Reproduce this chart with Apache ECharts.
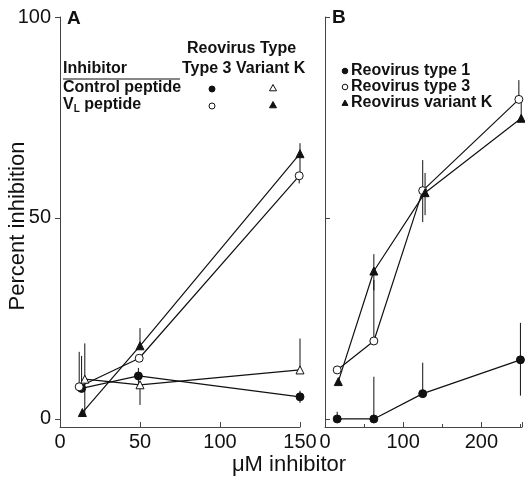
<!DOCTYPE html>
<html>
<head>
<meta charset="utf-8">
<script src="https://cdn.jsdelivr.net/npm/echarts@6/dist/echarts.min.js"></script>
<style>
  html, body { margin: 0; padding: 0; background: #fff; }
  #chart { width: 525px; height: 477px; }
</style>
</head>
<body>
<div id="chart"></div>
<script>
// panel A: inhibitor concentration (uM)
const ctrlType3X = [13.5, 49, 150];
const ctrlType3Y = [7.6, 10.7, 5.5];
const ctrlType3Lo = [7.6, 8.7, 4];
const ctrlType3Hi = [15.7, 12.7, 7];

const ctrlKX = [15.5, 50, 150];
const ctrlKY = [9.9, 8.5, 12.2];
const ctrlKLo = [1, 3.5, 12.2];
const ctrlKHi = [18.8, 8.5, 20];

const vlType3X = [12, 49.5, 149.5];
const vlType3Y = [8.0, 15.1, 60.5];
const vlType3Lo = [8.0, 15.1, 58.6];
const vlType3Hi = [16.7, 15.1, 60.5];

const vlKX = [14, 50, 150];
const vlKY = [1.6, 18.2, 66];
const vlKLo = [1.6, 18.2, 61];
const vlKHi = [1.6, 22.6, 68.6];

// panel B
const bX = [15.6, 62.5, 125, 250];
const type1Y = [0, 0, 6.3, 14.7];
const type1Lo = [0, 0, 6.3, 5.8];
const type1Hi = [1.8, 10.5, 14, 23.9];

const type3X = [15.6, 62.5, 125, 248];
const type3Y = [12.2, 19.4, 56.8, 79.5];
const type3Lo = [12.2, 19.4, 49, 79.5];
const type3Hi = [12.2, 34.6, 64.4, 84.3];

const variantKX = [17, 62.5, 128, 251];
const variantKY = [9.3, 36.8, 56.3, 74.8];
const variantKLo = [9.3, 32, 50.7, 74.8];
const variantKHi = [9.3, 41, 61.2, 79.5];

const yTicks = [0, 50, 100];

const ink = "#111";
const font = "Liberation Sans";

function pts(xs, ys) {
  return xs.map((x, i) => [x, ys[i]]);
}
function bars(xs, lo, hi) {
  return xs.map((x, i) => [x, lo[i], hi[i]]);
}

function errSeries(data, idx) {
  return {
    type: "custom",
    xAxisIndex: idx,
    yAxisIndex: idx,
    data: data,
    encode: { x: 0, y: [1, 2] },
    z: 1,
    silent: true,
    renderItem: function (params, api) {
      const a = api.coord([api.value(0), api.value(1)]);
      const b = api.coord([api.value(0), api.value(2)]);
      return {
        type: "line",
        shape: { x1: a[0], y1: a[1], x2: b[0], y2: b[1] },
        style: { stroke: ink, lineWidth: 1 },
      };
    },
  };
}

function lineSeries(data, idx, symbol, open) {
  return {
    type: "line",
    xAxisIndex: idx,
    yAxisIndex: idx,
    data: data,
    symbol: symbol,
    symbolSize: 8,
    showAllSymbol: true,
    z: 3,
    lineStyle: { color: ink, width: 1.2 },
    itemStyle: {
      color: open ? "#fff" : ink,
      borderColor: ink,
      borderWidth: 1,
    },
    emphasis: { disabled: true },
  };
}

const yAxisBase = {
  type: "value",
  min: -2,
  max: 100,
  splitLine: { show: false },
  axisLine: { show: true, lineStyle: { color: "#444", width: 1 } },
};

// legend glyphs
function tri(cx, cy, s, open) {
  return {
    type: "polygon",
    shape: { points: [[cx, cy - s], [cx - s, cy + s * 0.8], [cx + s, cy + s * 0.8]] },
    style: { fill: open ? "#fff" : ink, stroke: ink, lineWidth: 1 },
  };
}
function dot(cx, cy, r, open) {
  return {
    type: "circle",
    shape: { cx: cx, cy: cy, r: r },
    style: { fill: open ? "#fff" : ink, stroke: ink, lineWidth: 1 },
  };
}
function label(x, y, text, size, extra) {
  return {
    type: "text",
    x: x,
    y: y,
    style: Object.assign(
      { text: text, font: "bold " + size + "px '" + font + "'", fill: ink, verticalAlign: "middle" },
      extra || {}
    ),
  };
}

const chart = echarts.init(document.getElementById("chart"));
chart.setOption({
  animation: false,
  backgroundColor: "#fff",
  grid: [
    { left: 60, width: 240, top: 17, bottom: 50 },
    { left: 325, width: 198, top: 17, bottom: 50 },
  ],
  xAxis: [
    {
      type: "value",
      gridIndex: 0,
      min: 0,
      max: 150,
      interval: 50,
      splitLine: { show: false },
      axisLine: { onZero: false, lineStyle: { color: "#444" } },
      axisTick: { inside: true, length: 5, lineStyle: { color: "#444" } },
      axisLabel: { color: ink, fontFamily: font, fontSize: 20, margin: 5 },
    },
    {
      type: "value",
      gridIndex: 1,
      min: 0,
      max: 252,
      interval: 100,
      splitLine: { show: false },
      axisLine: { onZero: false, lineStyle: { color: "#444" } },
      axisTick: { inside: true, length: 5, lineStyle: { color: "#444" } },
      minorTick: { show: true, splitNumber: 2, length: 3, lineStyle: { color: "#444" } },
      axisLabel: {
        color: ink, fontFamily: font, fontSize: 20, margin: 5,
        formatter: (v) => (v > 250 ? "" : String(v)),
      },
    },
  ],
  yAxis: [
    Object.assign({}, yAxisBase, {
      gridIndex: 0,
      axisTick: { show: true, length: 5, customValues: yTicks, lineStyle: { color: "#444" } },
      axisLabel: { color: ink, fontFamily: font, fontSize: 20, margin: 9, customValues: yTicks },
    }),
    Object.assign({}, yAxisBase, {
      gridIndex: 1,
      axisTick: { show: true, inside: true, length: 5, customValues: yTicks, lineStyle: { color: "#444" } },
      axisLabel: { show: false },
    }),
  ],
  graphic: [
    label(67, 19, "A", 19),
    label(332, 18, "B", 19),
    // panel A legend table
    label(187, 49, "Reovirus Type", 16),
    label(63, 69, "Inhibitor", 16),
    label(182, 69, "Type 3 Variant K", 16),
    { type: "line", shape: { x1: 63, y1: 79, x2: 180, y2: 79 }, style: { stroke: ink, lineWidth: 1.2 } },
    label(63, 88, "Control peptide", 16),
    {
      type: "text",
      x: 63,
      y: 105,
      style: {
        text: "V{sub|L} peptide",
        font: "bold 16px '" + font + "'",
        fill: ink,
        verticalAlign: "middle",
        rich: { sub: { font: "bold 10px '" + font + "'", fill: ink, padding: [9, 0, 0, 0] } },
      },
    },
    dot(212, 89, 3, false),
    tri(273, 88, 3.5, true),
    dot(212, 106, 3, true),
    tri(273, 105, 3.5, false),
    // panel B legend
    dot(345, 71, 2.8, false),
    label(351, 71, "Reovirus type 1", 16),
    dot(345, 87, 2.8, true),
    label(351, 87, "Reovirus type 3", 16),
    tri(345, 103, 3, false),
    label(351, 103, "Reovirus variant K", 16),
    // axis titles
    {
      type: "text",
      x: 289,
      y: 465,
      style: { text: "\u03bcM inhibitor", font: "22px '" + font + "'", fill: ink, align: "center", verticalAlign: "middle" },
    },
    {
      type: "text",
      x: 18,
      y: 226,
      rotation: Math.PI / 2,
      style: { text: "Percent inhibition", font: "22px '" + font + "'", fill: ink, align: "center", verticalAlign: "middle" },
    },
  ],
  series: [
    errSeries(bars(ctrlType3X, ctrlType3Lo, ctrlType3Hi), 0),
    errSeries(bars(ctrlKX, ctrlKLo, ctrlKHi), 0),
    errSeries(bars(vlType3X, vlType3Lo, vlType3Hi), 0),
    errSeries(bars(vlKX, vlKLo, vlKHi), 0),
    lineSeries(pts(ctrlType3X, ctrlType3Y), 0, "circle", false),
    lineSeries(pts(ctrlKX, ctrlKY), 0, "triangle", true),
    lineSeries(pts(vlType3X, vlType3Y), 0, "circle", true),
    lineSeries(pts(vlKX, vlKY), 0, "triangle", false),
    errSeries(bars(bX, type1Lo, type1Hi), 1),
    errSeries(bars(type3X, type3Lo, type3Hi), 1),
    errSeries(bars(variantKX, variantKLo, variantKHi), 1),
    lineSeries(pts(bX, type1Y), 1, "circle", false),
    lineSeries(pts(type3X, type3Y), 1, "circle", true),
    lineSeries(pts(variantKX, variantKY), 1, "triangle", false),
  ],
});
</script>
</body>
</html>
